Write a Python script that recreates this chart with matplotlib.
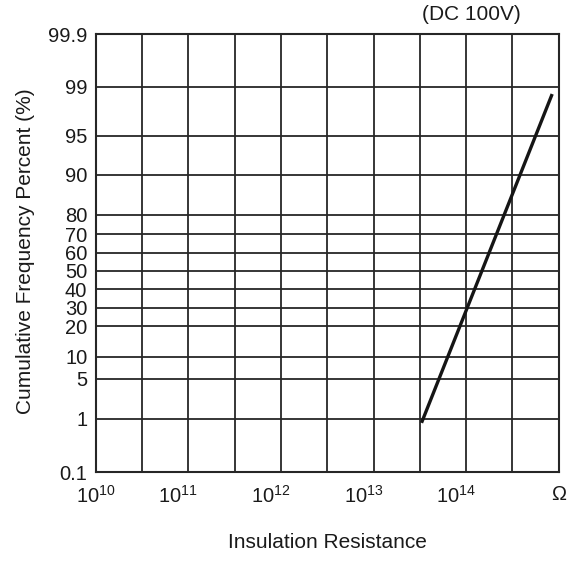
import numpy as np
import matplotlib
matplotlib.use("Agg")
import matplotlib.pyplot as plt
import matplotlib.transforms as mtransforms

plt.rcParams['font.family'] = ['Liberation Sans', 'DejaVu Sans']
plt.rcParams['mathtext.fontset'] = 'custom'
plt.rcParams['mathtext.rm'] = 'Liberation Sans'

# Data
resistance = [3.3e13, 8.5e14]          # ohm
cum_percent = [0.93, 98.4]             # %

# Y axis (cumulative percent) tick values and labels
y_ticks = [0.1, 1, 5, 10, 20, 30, 40, 50, 60, 70, 80, 90, 95, 99, 99.9]
y_tick_labels = ["0.1", "1", "5", "10", "20", "30", "40", "50", "60",
                 "70", "80", "90", "95", "99", "99.9"]
# relative spacing of the probability-paper grid (scale definition)
y_scale_pos = [0, 53.3, 93.3, 115, 145.7, 164.3, 182.7, 201.3, 219.3,
               238, 257, 297, 336.3, 385.3, 437.7]

# X axis tick exponents (half-decade grid), labels on whole decades
x_exponents = [10, 10.5, 11, 11.5, 12, 12.5, 13, 13.5, 14, 14.5, 15]
x_tick_labels = [r"$\mathregular{10^{10}}$", "", r"$\mathregular{10^{11}}$", "",
                 r"$\mathregular{10^{12}}$", "", r"$\mathregular{10^{13}}$", "",
                 r"$\mathregular{10^{14}}$", "", "\u03a9"]


def fwd(v):
    return np.interp(v, y_ticks, y_scale_pos)


def inv(u):
    return np.interp(u, y_scale_pos, y_ticks)


fig = plt.figure(figsize=(5.85, 5.61), dpi=100)
ax = fig.add_axes([95.7 / 585, 1 - 472 / 561, (558.7 - 95.7) / 585, (472 - 34.3) / 561])

ax.set_xscale('log')
ax.set_yscale('function', functions=(fwd, inv))
ax.set_xlim(10 ** x_exponents[0], 10 ** x_exponents[-1])
ax.set_ylim(y_ticks[0], y_ticks[-1])

grid_color = '#262626'
text_color = '#1a1a1a'
ax.set_xticks([10 ** e for e in x_exponents])
ax.set_xticklabels(x_tick_labels)
ax.xaxis.set_minor_locator(matplotlib.ticker.NullLocator())
ax.set_yticks(y_ticks)
ax.set_yticklabels(y_tick_labels)
ax.yaxis.set_minor_locator(matplotlib.ticker.NullLocator())

ax.tick_params(axis='both', length=0, labelsize=14.5, colors=text_color)
ax.tick_params(axis='y', pad=6)
ax.tick_params(axis='x', pad=9.5)
ax.grid(True, which='major', color=grid_color, linewidth=1.3)
for s in ax.spines.values():
    s.set_color(grid_color)
    s.set_linewidth(1.5)

# shift decade labels slightly left as in the reference
shift = mtransforms.ScaledTranslation(-0.10, 0, fig.dpi_scale_trans)
for i, lab in enumerate(ax.get_xticklabels()):
    if 2 <= i <= 8:
        lab.set_transform(lab.get_transform() + shift)

ax.plot(resistance, cum_percent, color='#151515', linewidth=2.4, solid_capstyle='butt', zorder=3)

fig.text(327.5 / 585, 1 - 543 / 561, "Insulation Resistance", ha='center', va='center',
         fontsize=15, color=text_color)
fig.text(26 / 585, 1 - 251 / 561, "Cumulative Frequency Percent (%)", ha='center',
         va='center', rotation=90, fontsize=15, color=text_color)
fig.text(471 / 585, 1 - 15 / 561, "(DC 100V)", ha='center', va='center',
         fontsize=15, color=text_color)

fig.savefig("out.png", dpi=100)
